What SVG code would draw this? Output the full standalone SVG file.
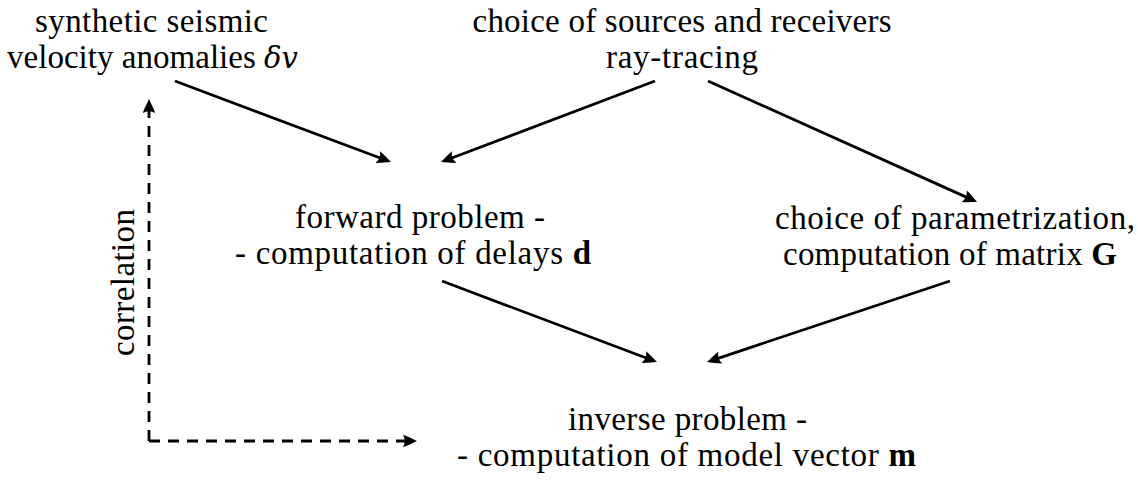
<svg xmlns="http://www.w3.org/2000/svg" width="1138" height="480" viewBox="0 0 1138 480">
<style>
.c{fill:none;stroke:#000;stroke-width:2.8}
.d{stroke-dasharray:11 8}
</style>
<defs>
<marker id="ah" viewBox="0 -7 16 14" refX="5" refY="0" markerWidth="16" markerHeight="14" markerUnits="userSpaceOnUse" orient="auto">
<path d="M15,0 C11,-1.8 6,-4.5 1,-6.2 Q4.5,0 1,6.2 C6,4.5 11,1.8 15,0 Z" fill="#000"/>
</marker>
</defs>
<rect width="1138" height="480" fill="#fff"/>
<g id="synthetic">
<text x="151.5" y="32" font-family="Liberation Serif" font-size="33" text-anchor="middle" textLength="233">synthetic seismic</text>
<text x="152.5" y="68" font-family="Liberation Serif" font-size="33" text-anchor="middle" textLength="291">velocity anomalies <tspan font-family="DejaVu Serif" font-size="29" font-style="italic">δv</tspan></text>
</g>
<g id="sources">
<text x="682" y="32" font-family="Liberation Serif" font-size="33" text-anchor="middle" textLength="419">choice of sources and receivers</text>
<text x="682" y="68" font-family="Liberation Serif" font-size="33" text-anchor="middle" textLength="152">ray-tracing</text>
</g>
<g id="forward">
<text x="420" y="228" font-family="Liberation Serif" font-size="33" text-anchor="middle" textLength="250">forward problem -</text>
<text x="413" y="264" font-family="Liberation Serif" font-size="33" text-anchor="middle" textLength="356">- computation of delays <tspan font-weight="bold">d</tspan></text>
</g>
<g id="parametrization">
<text x="955" y="229" font-family="Liberation Serif" font-size="33" text-anchor="middle" textLength="360">choice of parametrization,</text>
<text x="950" y="265" font-family="Liberation Serif" font-size="33" text-anchor="middle" textLength="334">computation of matrix <tspan font-weight="bold">G</tspan></text>
</g>
<g id="inverse">
<text x="687.5" y="430" font-family="Liberation Serif" font-size="33" text-anchor="middle" textLength="239">inverse problem -</text>
<text x="686.5" y="466" font-family="Liberation Serif" font-size="33" text-anchor="middle" textLength="459">- computation of model vector <tspan font-weight="bold">m</tspan></text>
</g>
<g id="correlation" transform="translate(134,282.5) rotate(-90)">
<text x="0" y="0" font-family="Liberation Serif" font-size="33" text-anchor="middle" textLength="147">correlation</text>
</g>
<g id="connectors">
<path class="c" d="M175,81 L381.6,158.5" marker-end="url(#ah)"/>
<path class="c" d="M655,81 L450.4,158.5" marker-end="url(#ah)"/>
<path class="c" d="M708,81 L967.9,197.9" marker-end="url(#ah)"/>
<path class="c" d="M442,281 L647.6,358.5" marker-end="url(#ah)"/>
<path class="c" d="M950,281 L716.5,358.8" marker-end="url(#ah)"/>
<path class="c d" d="M149,441 L149,109" marker-end="url(#ah)"/>
<path class="c d" d="M149,441 L407,441" marker-end="url(#ah)"/>
</g>
</svg>
